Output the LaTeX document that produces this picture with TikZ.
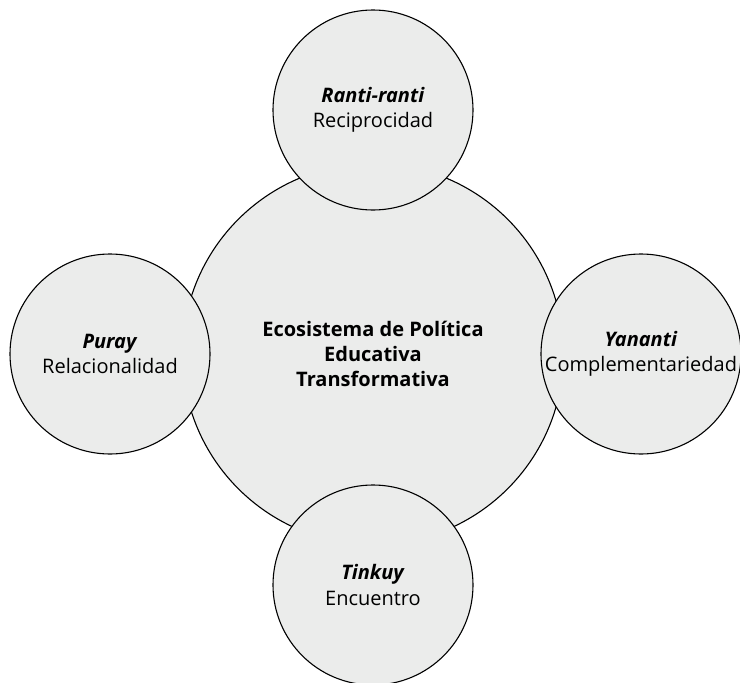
\documentclass[tikz,border=0pt]{standalone}
\usepackage{fontspec}
\setmainfont{Open Sans}
\usetikzlibrary{positioning}
\definecolor{circlegray}{RGB}{235,236,235}
\tikzstyle{core} = [circle, minimum size=381pt, inner sep=0pt, draw=black, line width=1.1pt, fill=circlegray, align=center, font=\fontsize{20}{25}\selectfont\bfseries]
\tikzstyle{petal} = [circle, minimum size=200pt, inner sep=0pt, draw=black, line width=1.1pt, fill=circlegray, align=center, font=\fontsize{20}{25.5}\selectfont]

\begin{document}
\begin{tikzpicture}[node distance=244pt]
    \useasboundingbox (0,0) rectangle (740pt,-683pt);
    \node (eco) [core] at (373pt,-354pt) {Ecosistema de Política\\Educativa\\Transformativa};
    \node (ranti) [petal, above of=eco] {\textbf{\textit{Ranti-ranti}}\\Reciprocidad};
    \node (puray) [petal, left of=eco, xshift=-19pt] {\textbf{\textit{Puray}}\\Relacionalidad};
    \node (yananti) [petal, right of=eco, xshift=24pt] {\textbf{\textit{Yananti}}\\Complementariedad};
    \node (tinkuy) [petal, below of=eco, yshift=13pt] {\textbf{\textit{Tinkuy}}\\Encuentro};
\end{tikzpicture}
\end{document}
